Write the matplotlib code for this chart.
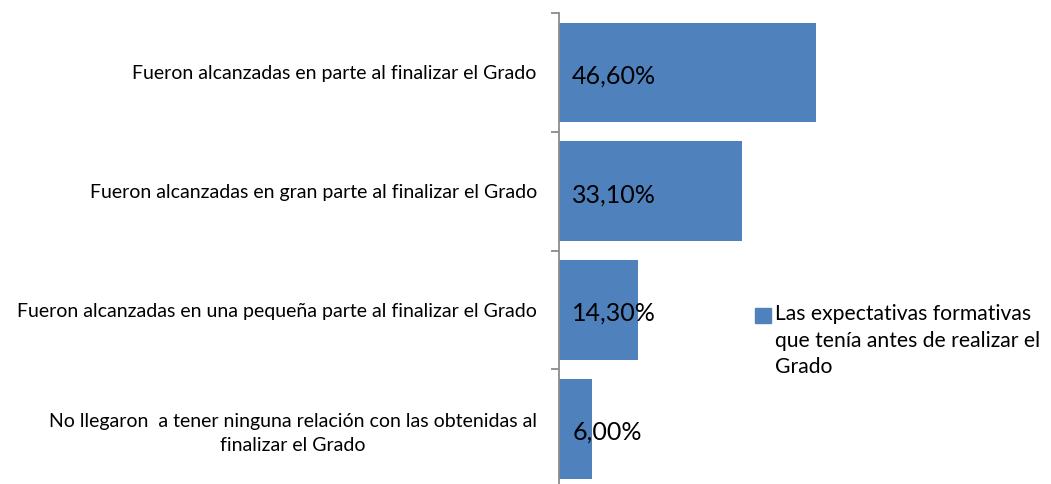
import matplotlib
matplotlib.use("Agg")
import matplotlib.pyplot as plt
from matplotlib.patches import Rectangle

categories = [
    "Fueron alcanzadas en parte al finalizar el Grado",
    "Fueron alcanzadas en gran parte al finalizar el Grado",
    "Fueron alcanzadas en una pequeña parte al finalizar el Grado",
    "No llegaron  a tener ninguna relación con las obtenidas al\nfinalizar el Grado",
]
values = [46.6, 33.1, 14.3, 6.0]
value_labels = ["46,60%", "33,10%", "14,30%", "6,00%"]
series_name = "Las expectativas formativas\nque tenía antes de realizar el\nGrado"

BAR = "#4F81BD"
FONT = ["Lato", "DejaVu Sans"]

W, H = 1051, 484
fig = plt.figure(figsize=(W / 100, H / 100), dpi=100)
ax = fig.add_axes([559 / W, -4 / H, (834.7 - 559) / W, (484 + 4 - 13) / H])

y = list(range(len(categories)))
ax.barh(y, values, height=0.84, color=BAR, edgecolor="none")
ax.set_ylim(len(categories) - 0.5, -0.5)
ax.set_xlim(0, 50)

for yi, lab in zip(y, value_labels):
    ax.text(2.4, yi + 0.03, lab, va="center", ha="left", fontsize=18,
            family=FONT, color="black")

for s in ["top", "right", "bottom"]:
    ax.spines[s].set_visible(False)
ax.spines["left"].set_color("#8C8C8C")
ax.spines["left"].set_linewidth(1.3)
ax.set_xticks([])
ax.set_yticks(y)
ax.set_yticklabels(categories, family=FONT, fontsize=14, multialignment="center",
                   linespacing=1.5)
ax.tick_params(axis="y", which="major", length=0, pad=16)
ax.set_yticks([i - 0.5 for i in range(len(categories) + 1)], minor=True)
ax.tick_params(axis="y", which="minor", length=6, color="#8C8C8C", width=1.3)

# legend
fig.patches.append(Rectangle((755 / W, 1 - 323 / H), 16 / W, 15 / H,
                             transform=fig.transFigure, color=BAR))
fig.text(775 / W, 1 - 304 / H, series_name, ha="left", va="top",
         fontsize=15.2, family=FONT, linespacing=1.42)

fig.savefig("out.png", dpi=100)
